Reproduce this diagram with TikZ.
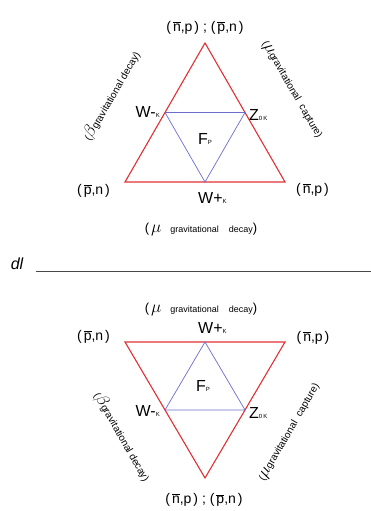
\documentclass[tikz,border=0pt]{standalone}
\usepackage{fontspec}
\setmainfont{Liberation Sans}
\usepackage{tikz}
\usetikzlibrary{positioning}
\definecolor{trired}{RGB}{224,48,52}
\definecolor{triblue}{RGB}{108,108,206}
\definecolor{rulegray}{RGB}{72,72,72}
\newcommand{\barred}[1]{$\overline{\mbox{#1}}$}
\newcommand{\ksub}[1]{{\fontsize{6}{6}\selectfont #1}}
\newcommand{\smalltxt}[1]{{\fontsize{9}{10}\selectfont #1}}
\newcommand{\bigsym}[1]{{\fontsize{16}{16}\selectfont$#1$}}

\begin{document}
\begin{tikzpicture}[x=1pt, y=-1pt, every node/.style={inner sep=1pt},
 outer/.style={draw=trired, line width=1.1pt},
 inner/.style={draw=triblue, line width=0.7pt},
 pair/.style={font=\fontsize{14}{15}\selectfont},
 vert/.style={font=\fontsize{16}{16}\selectfont},
 decay/.style={font=\fontsize{13}{14}\selectfont},
 side/.style={font=\fontsize{10}{11}\selectfont, inner sep=0pt}]
\useasboundingbox (0,0) rectangle (371,511);
% upper triangle
\coordinate (ua) at (205,43);
\coordinate (ub) at (125,182);
\coordinate (uc) at (285,182);
\coordinate (uwm) at (165,112.5);
\coordinate (uz) at (245,112.5);
\coordinate (uwp) at (205,182);
\draw[outer] (ua)--(ub)--(uc)--cycle;
\draw[inner] (uwm)--(uz)--(uwp)--cycle;
\node[pair] (utop) at (205,28) {(\hspace{2pt}\barred{n},p\hspace{2pt}) ; (\hspace{2pt}\barred{p},n\hspace{2pt})};
\node[pair] (uleft) at (93.5,191) {(\hspace{2pt}\barred{p},n\hspace{2pt})};
\node[pair] (uright) at (312.5,190) {(\hspace{2pt}\barred{n},p\hspace{2pt})};
\node[vert, anchor=east] (uwmlbl) at (161,112) {W-\ksub{K}};
\node[vert, anchor=west] (uzlbl) at (248,115) {Z\ksub{0\,K}};
\node[vert] (uflbl) at (205,139) {F\ksub{P}};
\node[vert, anchor=north west] (uwplbl) at (197,191) {W+\ksub{K}};
\node[decay] (udecay) at (201,229) {(\hspace{2pt}\bigsym{\mu}\hspace{9pt}\smalltxt{gravitational\hspace{10pt}decay})};
\node[side, rotate=60] (ubeta) at (111.5,96) {(\bigsym{\beta}gravitational decay)};
\node[side, rotate=-60] (umu) at (291.5,90) {(\bigsym{\mu}gravitational\hspace{6pt}capture)};
% divider
\node[font=\fontsize{16}{16}\selectfont\itshape] (dl) at (17,264) {dl};
\coordinate (rulel) at (36,271.5);
\coordinate (ruler) at (371,271.5);
\draw[rulegray, line width=0.8pt] (rulel)--(ruler);
% lower triangle
\coordinate (la) at (205,478);
\coordinate (lb) at (125,342);
\coordinate (lc) at (285,342);
\coordinate (lwm) at (165,410);
\coordinate (lz) at (245,410);
\coordinate (lwp) at (205,342);
\draw[outer] (la)--(lb)--(lc)--cycle;
\draw[inner] (lwm)--(lz)--(lwp)--cycle;
\node[pair] (lbottom) at (204,500) {(\hspace{2pt}\barred{n},p\hspace{2pt}) ; (\hspace{2pt}\barred{p},n\hspace{2pt})};
\node[pair] (lleft) at (93.5,337) {(\hspace{2pt}\barred{p},n\hspace{2pt})};
\node[pair] (lright) at (313,338) {(\hspace{2pt}\barred{n},p\hspace{2pt})};
\node[vert, anchor=east] (lwmlbl) at (161,411) {W-\ksub{K}};
\node[vert, anchor=west] (lzlbl) at (248,413) {Z\ksub{0\,K}};
\node[vert] (lflbl) at (203,386) {F\ksub{P}};
\node[vert, anchor=south west] (lwplbl) at (197,335) {W+\ksub{K}};
\node[decay] (ldecay) at (201,309) {(\hspace{2pt}\bigsym{\mu}\hspace{9pt}\smalltxt{gravitational\hspace{10pt}decay})};
\node[side, rotate=-60] (lbeta) at (122.5,436.5) {(\bigsym{\beta}gravitational decay)};
\node[side, rotate=60] (lmu) at (290,432.5) {(\bigsym{\mu}gravitational\hspace{6pt}capture)};
\end{tikzpicture}
\end{document}
